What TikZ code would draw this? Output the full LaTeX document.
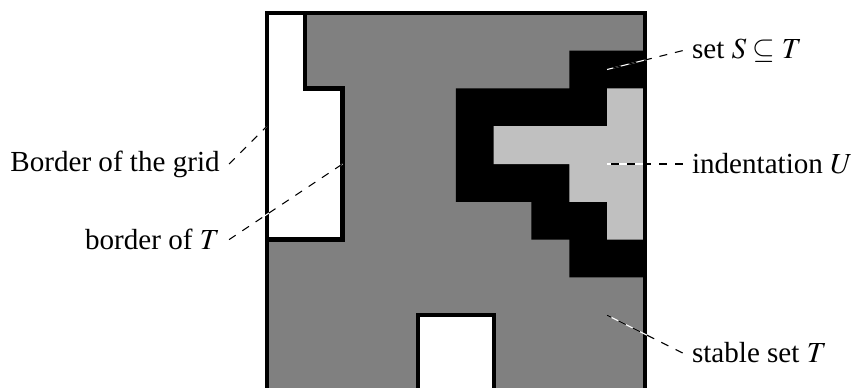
\documentclass[tikz,border=0pt]{standalone}
\usepackage{mathptmx}
\usepackage{fontspec}
\setmainfont{Liberation Serif}
\usepackage{tikz}
\usetikzlibrary{positioning}
\definecolor{StableGray}{RGB}{128,128,128}
\definecolor{IndentGray}{RGB}{192,192,192}

\begin{document}
\begin{tikzpicture}[x=0.5cm, y=0.5cm, font=\fontsize{10.95}{13.6}\selectfont]
    \tikzstyle{border}=[ultra thick, black]
    \tikzstyle{leader}=[dashed, thin, black, preaction={draw=white, solid, thin}]
    \useasboundingbox (-7.06,-9.90) rectangle (15.48,0.339);

    % stable set T on the grid
    \fill[StableGray] (0,0) rectangle (10,-10.5);
    \fill[white] (0,0) -- (1,0) -- (1,-2) -- (2,-2) -- (2,-6) -- (0,-6) -- cycle;
    \fill[white] (4,-10.5) -- (4,-8) -- (6,-8) -- (6,-10.5) -- cycle;
    \draw[border] (1,0) -- (1,-2) -- (2,-2) -- (2,-6) -- (0,-6);
    \draw[border] (4,-10.5) -- (4,-8) -- (6,-8) -- (6,-10.5);

    % set S and indentation U
    \fill[black] (8,-1) -- (10,-1) -- (10,-7) -- (8,-7) -- (8,-6) -- (7,-6) -- (7,-5) -- (5,-5) -- (5,-2) -- (8,-2) -- cycle;
    \fill[IndentGray] (9,-2) -- (10,-2) -- (10,-6) -- (9,-6) -- (9,-5) -- (8,-5) -- (8,-4) -- (6,-4) -- (6,-3) -- (9,-3) -- cycle;

    % border of the grid
    \draw[border] (0,-10.5) -- (0,0) -- (10,0) -- (10,-10.5);

    % labels
    \coordinate (gridpt) at (0,-3);
    \coordinate (borderpt) at (2,-4);
    \coordinate (setpt) at (9,-1.5);
    \coordinate (indentpt) at (9,-4);
    \coordinate (stablept) at (9,-8);
    \node[anchor=east] (gridlbl) at (-1,-4) {Border of the grid};
    \node[anchor=east] (borderlbl) at (-1,-6) {border of $T$};
    \node[anchor=west] (setlbl) at (11,-1) {set $S \subseteq T$};
    \node[anchor=west] (indentlbl) at (11,-4) {indentation $U$};
    \node[anchor=west] (stablelbl) at (11,-9) {stable set $T$};

    \draw[leader] (gridlbl.east) -- (gridpt);
    \draw[leader] (borderlbl.east) -- (borderpt);
    \draw[leader] (setlbl.west) -- (setpt);
    \draw[leader] (indentlbl.west) -- (indentpt);
    \draw[leader] (stablelbl.west) -- (stablept);
\end{tikzpicture}
\end{document}
